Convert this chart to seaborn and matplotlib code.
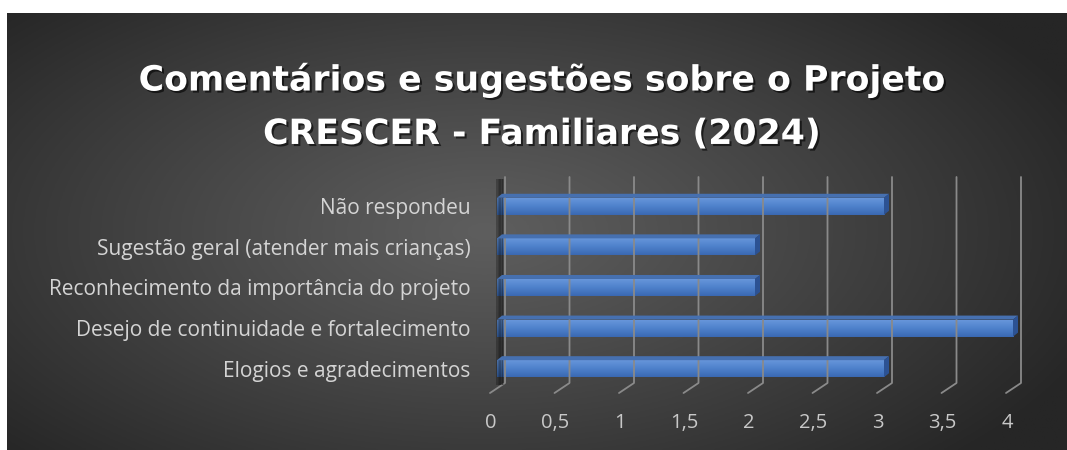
import numpy as np
import pandas as pd
import matplotlib
matplotlib.use("Agg")
import matplotlib.pyplot as plt
import matplotlib.transforms as mtransforms
import matplotlib.patheffects as pe
from matplotlib.patches import Polygon, Rectangle
from matplotlib.lines import Line2D
from matplotlib.colors import LinearSegmentedColormap
import seaborn as sns

# ---- data ----
categorias = [
    "Não respondeu",
    "Sugestão geral (atender mais crianças)",
    "Reconhecimento da importância do projeto",
    "Desejo de continuidade e fortalecimento",
    "Elogios e agradecimentos",
]
valores = [3, 2, 2, 4, 3]
ticks = [0, 0.5, 1, 1.5, 2, 2.5, 3, 3.5, 4]
tick_labels = ["0", "0,5", "1", "1,5", "2", "2,5", "3", "3,5", "4"]
titulo = "Comentários e sugestões sobre o Projeto\nCRESCER - Familiares (2024)"

sns.set_theme(style="white")
plt.rcParams["font.family"] = ["Open Sans", "DejaVu Sans"]

W, H = 1067, 450
fig = plt.figure(figsize=(W / 100, H / 100), dpi=100, facecolor="white")
ID = mtransforms.IdentityTransform()

# ---- background radial gradient ----
bg = fig.add_axes([7 / W, 0, 1 - 7 / W, (H - 13) / H], zorder=-10)
gx, gy = np.meshgrid(np.linspace(0, 1, 400), np.linspace(0, 1, 200))
r = np.sqrt(((gx - 0.45) / 0.62) ** 2 + ((gy - 0.5) / 0.75) ** 2)
r = np.clip(r, 0, 1)
c0, c1 = 0x5e / 255, 0x26 / 255
img = c0 + (c1 - c0) * r ** 1.1
bg.imshow(np.dstack([img, img, img]), aspect="auto", extent=[0, 1, 0, 1], origin="upper")
bg.axis("off")

# ---- main axes ----
x0px, x4px = 497, 1013
ytop, ybot = 186, 389
ax = fig.add_axes([x0px / W, (H - ybot) / H, (x4px - x0px) / W, (ybot - ytop) / H])
ax.set_facecolor("none")

df = pd.DataFrame({"cat": categorias, "val": valores})
sns.barplot(data=df, x="val", y="cat", orient="h", ax=ax, color="#4a7cc6",
            saturation=1, width=0.42, zorder=3, edgecolor="none", linewidth=0)
ax.set_xlim(0, 4)
ax.set_ylim(len(categorias) - 0.5, -0.5)
ax.set_xlabel("")
ax.set_ylabel("")
for s in ax.spines.values():
    s.set_visible(False)
ax.set_xticks([])
ax.tick_params(axis="y", length=0, pad=19, labelsize=15, labelcolor="#d4d4d4")

# ---- 3D-like gridlines (back wall + floor) ----
top_d = H - 177
bwall_d = H - 383
floor_d = H - 393
for t in ticks:
    xd = ax.transData.transform((t, 0))[0]
    fig.add_artist(Line2D([xd + 8, xd + 8, xd - 7], [top_d, bwall_d, floor_d],
                          transform=ID, color="#8a8a8a", lw=1.3, zorder=1))

# left wall shadow
xd0 = ax.transData.transform((0, 0))[0]
for i, a in enumerate([0.25, 0.35, 0.45, 0.35, 0.2]):
    fig.add_artist(Rectangle((xd0 + i * 1.6 - 1, bwall_d - 2), 1.8, top_d - bwall_d,
                             transform=ID, color="black", alpha=a, lw=0, zorder=2))

# ---- 3D faces on bars ----
dx, dy = 5, 4
grad = np.linspace(0, 1, 50).reshape(-1, 1)
cmap = LinearSegmentedColormap.from_list("b", ["#6a98dc", "#4f82cc", "#3a69b3"])
for p in ax.patches:
    x_a, y_a = p.get_x(), p.get_y()
    w, h = p.get_width(), p.get_height()
    (X0, Y0) = ax.transData.transform((x_a, y_a + h))
    (X1, Y1) = ax.transData.transform((x_a + w, y_a))
    im = ax.imshow(grad, cmap=cmap, aspect="auto",
                   extent=[x_a, x_a + w, y_a + h, y_a], zorder=4)
    im.set_clip_path(p)
    fig.add_artist(Polygon([(X0, Y1), (X1, Y1), (X1 + dx, Y1 + dy), (X0 + dx, Y1 + dy)],
                           closed=True, transform=ID, facecolor="#4670b0",
                           edgecolor="none", zorder=5))
    fig.add_artist(Polygon([(X1, Y0), (X1 + dx, Y0 + dy), (X1 + dx, Y1 + dy), (X1, Y1)],
                           closed=True, transform=ID, facecolor="#2c5293",
                           edgecolor="none", zorder=5))
ax.set_xlim(0, 4)
ax.set_ylim(len(categorias) - 0.5, -0.5)

# ---- x tick labels on the front edge ----
lab_tr = mtransforms.offset_copy(ax.get_xaxis_transform(), fig=fig, x=-6, y=-34, units="dots")
for t, lab in zip(ticks, tick_labels):
    ax.text(t, 0, lab, transform=lab_tr, ha="center", va="center",
            fontsize=14.5, color="#c8c8c8", clip_on=False)

# ---- title ----
fig.text(542 / W, 1 - 106.5 / H, titulo, ha="center", va="center", fontsize=25,
         fontweight="bold", color="white", linespacing=1.72,
         family=["DejaVu Sans"],
         path_effects=[pe.withSimplePatchShadow(offset=(1.5, -1.5), shadow_rgbFace="black", alpha=0.6)])

fig.savefig("out.png", dpi=100, facecolor="white")
